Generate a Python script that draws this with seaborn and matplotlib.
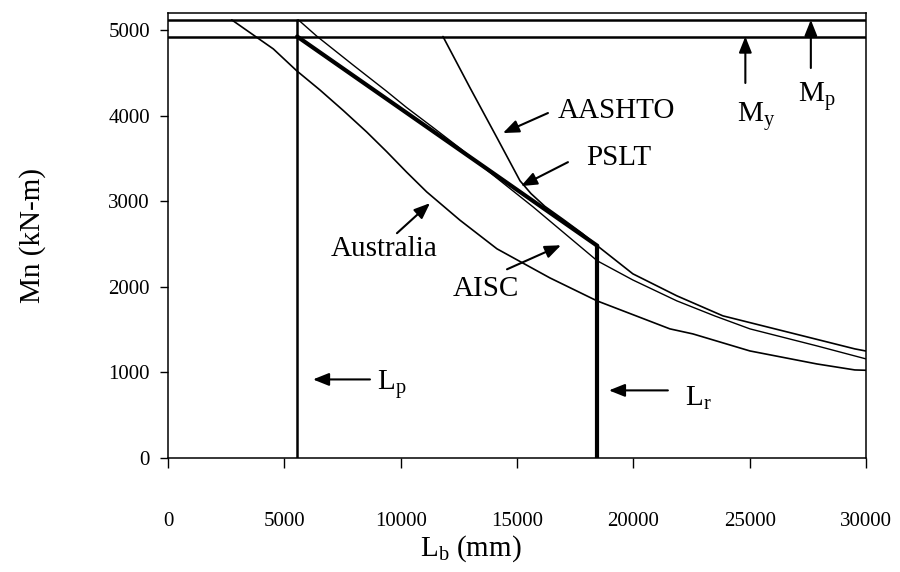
import matplotlib
matplotlib.use("Agg")
import matplotlib.pyplot as plt
import seaborn as sns

# ---- data ----
Lp = 5550
Lr = 18450
Mp = 5120
My = 4925

aashto_x = [11817, 12978, 14138, 15127, 15600, 16200, 17000, 17800, 18450,
            19980, 21870, 23850, 27290, 29520, 30000]
aashto_y = [4925, 4327, 3743, 3240, 3090, 2940, 2785, 2625, 2480,
            2152, 1895, 1661, 1427, 1275, 1250]

pslt_x = [Lp, Lr]
pslt_y = [My, 2480]

aisc_x = [5600, 6390, 7963, 9397, 10256, 11400, 12547, 14000, 15700, 17000,
          18450, 19980, 21870, 23500, 25010, 27890, 30000]
aisc_y = [5120, 4930, 4590, 4285, 4095, 3860, 3620, 3300, 2932, 2635,
          2304, 2080, 1836, 1660, 1509, 1310, 1158]

aus_x = [2737, 3667, 4526, 5529, 6531, 7534, 8537, 9397, 10256, 11116,
         12547, 14140, 16410, 18440, 21570, 22560, 25010, 27890, 29520, 30000]
aus_y = [5120, 4943, 4780, 4525, 4300, 4060, 3810, 3580, 3340, 3110,
         2779, 2444, 2105, 1836, 1509, 1450, 1251, 1099, 1029, 1025]

x_ticks = [0, 5000, 10000, 15000, 20000, 25000, 30000]
y_ticks = [0, 1000, 2000, 3000, 4000, 5000]

# ---- style ----
sns.set_theme(style="white")
plt.rcParams['font.family'] = ['Liberation Serif', 'DejaVu Serif']
plt.rcParams['mathtext.fontset'] = 'custom'
plt.rcParams['mathtext.rm'] = 'Liberation Serif'
plt.rcParams['mathtext.it'] = 'Liberation Serif:italic'
plt.rcParams['text.color'] = 'black'
plt.rcParams['axes.labelcolor'] = 'black'
plt.rcParams['xtick.color'] = 'black'
plt.rcParams['ytick.color'] = 'black'

fig = plt.figure(figsize=(9, 5.72), dpi=100)
ax = fig.add_axes([0.1867, 0.1993, 0.9622 - 0.1867, 0.9773 - 0.1993])

k = dict(ax=ax, color='black', estimator=None, sort=False, legend=False)
sns.lineplot(x=[0, 30000], y=[Mp, Mp], lw=1.8, **k)
sns.lineplot(x=[0, 30000], y=[My, My], lw=1.8, **k)
sns.lineplot(x=[Lp, Lp], y=[0, Mp], lw=1.8, **k)
sns.lineplot(x=[Lr, Lr], y=[0, pslt_y[-1]], lw=3.0, **k)
sns.lineplot(x=aus_x, y=aus_y, lw=1.2, **k)
sns.lineplot(x=aisc_x, y=aisc_y, lw=1.0, **k)
sns.lineplot(x=aashto_x, y=aashto_y, lw=1.2, **k)
sns.lineplot(x=pslt_x, y=pslt_y, lw=3.0, **k)

ax.set_xlim(0, 30000)
ax.set_ylim(0, 5200)
ax.set_xticks(x_ticks)
ax.set_yticks(y_ticks)
ax.set_xticklabels([str(v) for v in x_ticks])
ax.set_yticklabels([str(v) for v in y_ticks])
ax.tick_params(axis='x', direction='out', length=7, width=1, pad=32,
               labelsize=15, bottom=True)
ax.tick_params(axis='y', direction='out', length=6, width=1, pad=7,
               labelsize=15, left=True)
for s in ax.spines.values():
    s.set_color('black')
    s.set_linewidth(1.1)

ax.set_xlabel(r'L$_\mathrm{b}$ (mm)', fontsize=21)
ax.xaxis.set_label_coords((471 - 168) / 698, -(533 - 458) / 445, transform=ax.transAxes)
ax.set_ylabel('Mn (kN-m)', fontsize=21)
ax.yaxis.set_label_coords(-(168 - 46) / 698, 0.5, transform=ax.transAxes)

aprops = dict(arrowstyle='-|>,head_length=0.8,head_width=0.32', color='black',
              lw=1.5, shrinkA=0, shrinkB=0)
fs = 21
ax.annotate('', xy=(14395, 3797), xytext=(16330, 4031), arrowprops=aprops)
ax.text(16760, 4054, 'AASHTO', fontsize=fs, ha='left', va='center')
ax.annotate('', xy=(15170, 3177), xytext=(17190, 3457), arrowprops=aprops)
ax.text(17960, 3504, 'PSLT', fontsize=fs, ha='left', va='center')
ax.annotate('', xy=(11260, 2978), xytext=(9840, 2627), arrowprops=aprops)
ax.text(9300, 2439, 'Australia', fontsize=fs, ha='center', va='center')
ax.annotate('', xy=(16890, 2486), xytext=(14570, 2205), arrowprops=aprops)
ax.text(13665, 1971, 'AISC', fontsize=fs, ha='center', va='center')
ax.annotate('', xy=(6230, 918), xytext=(8680, 918), arrowprops=aprops)
ax.text(8980, 800, r'L$_\mathrm{p}$', fontsize=fs, ha='left', va='baseline')
ax.annotate('', xy=(18950, 790), xytext=(21485, 790), arrowprops=aprops)
ax.text(22215, 610, r'L$_\mathrm{r}$', fontsize=fs, ha='left', va='baseline')
ax.annotate('', xy=(24815, My), xytext=(24815, 4382), arrowprops=aprops)
ax.text(24440, 3925, r'M$_\mathrm{y}$', fontsize=fs, ha='left', va='baseline')
ax.annotate('', xy=(27630, Mp), xytext=(27630, 4557), arrowprops=aprops)
ax.text(27070, 4160, r'M$_\mathrm{p}$', fontsize=fs, ha='left', va='baseline')

fig.savefig('out.png', dpi=100)
